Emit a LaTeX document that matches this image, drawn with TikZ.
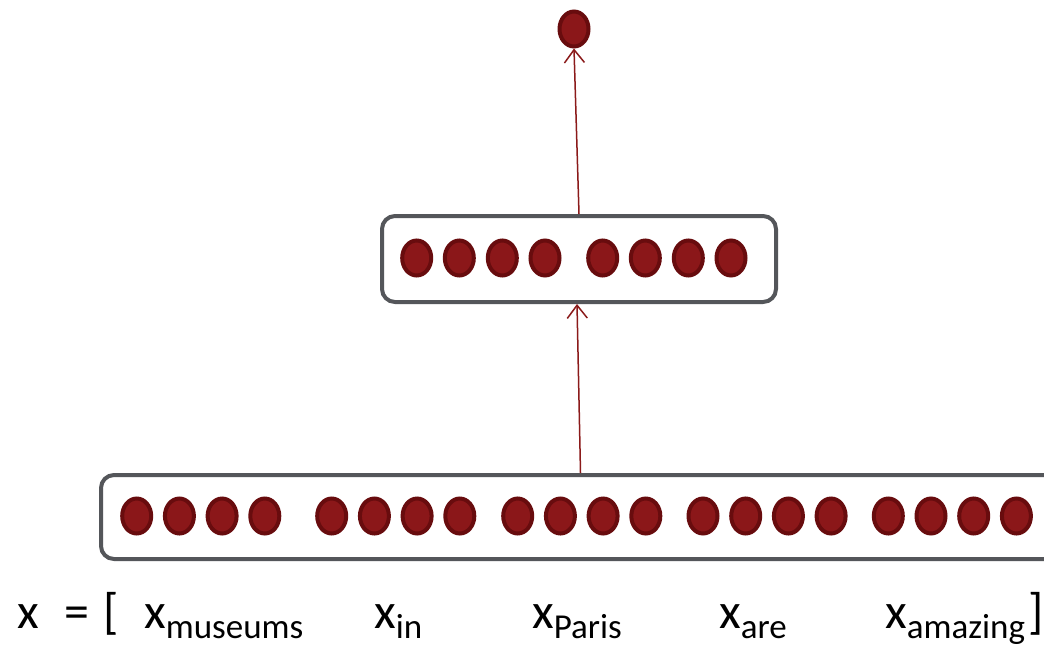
\documentclass[tikz,border=0pt]{standalone}
\usepackage{fontspec}
\setmainfont{Carlito}
\usetikzlibrary{shapes.geometric,arrows.meta}
\definecolor{dotfill}{HTML}{8B1719}
\definecolor{dotedge}{HTML}{680C0E}
\definecolor{boxedge}{HTML}{54565A}
\definecolor{arrcol}{HTML}{8B1A1A}
\tikzset{
  unit/.style={ellipse, fill=dotfill, draw=dotedge, line width=4pt, minimum width=29pt, minimum height=35pt, inner sep=0pt},
  layerbox/.style={draw=boxedge, line width=4pt, rounded corners=13pt, fill=white, inner sep=0pt},
  arr/.style={draw=arrcol, line width=1.5pt, -{Straight Barb[length=13pt,width=20pt,line width=1.5pt]}},
  word/.style={anchor=base west, inner sep=0pt, font=\fontsize{50}{60}\selectfont},
}
\newcommand{\subw}[1]{\raisebox{-10pt}{\fontsize{35}{40}\selectfont #1}}
\begin{document}
\begin{tikzpicture}[x=1pt,y=-1pt]
\clip (0,0) rectangle (1044,646);
\fill[white] (0,0) rectangle (1044,646);
% boxes
\node[layerbox, minimum width=959pt, minimum height=84pt] (bot) at (580.5,517) {};
\node[layerbox, minimum width=394pt, minimum height=86pt] (mid) at (579,259) {};
% bottom units
\foreach \g/\gx in {1/136.7,2/331.7,3/517.7,4/703,5/888.3}{
  \foreach \i in {0,1,2,3}{
    \node[unit] (b\g\i) at (\gx+42.7*\i,516) {};
  }
}
% middle units
\foreach \i/\xx in {1/416.7,2/459.3,3/502.3,4/545,5/602.7,6/645.3,7/688.3,8/731}{
  \node[unit] (m\i) at (\xx,258) {};
}
% output unit
\node[unit] (out) at (574,29) {};
% connectors
\draw[arr] (bot.north) -- ([xshift=-2pt]mid.south);
\draw[arr] (mid.north) -- (out.south);
% text
\node[word] (tx) at (17,628) {x};
\node[word] (teq) at (64,628) {=};
\node[word] (tlb) at (103,628) {[};
\node[word] (t1) at (144,628) {x\subw{museums}};
\node[word] (t2) at (374,628) {x\subw{in}};
\node[word] (t3) at (532,628) {x\subw{Paris}};
\node[word] (t4) at (719,628) {x\subw{are}};
\node[word] (t5) at (885,628) {x\subw{amazing}};
\node[word] (trb) at (1028,628) {]};
\end{tikzpicture}
\end{document}
